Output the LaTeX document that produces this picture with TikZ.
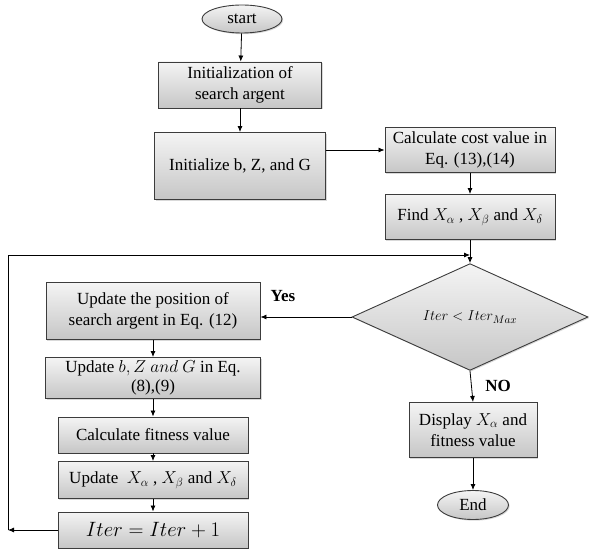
\documentclass[tikz,border=0pt]{standalone}
\usepackage{fontspec}
\setmainfont{Liberation Serif}
\usetikzlibrary{shapes.geometric,arrows.meta,shadows}
\definecolor{boxtop}{HTML}{F4F4F4}
\definecolor{boxbot}{HTML}{C6C6C6}
\definecolor{edge}{HTML}{3C3C3C}
\tikzset{
  box/.style={draw=edge, line width=0.9pt, top color=boxtop, bottom color=boxbot,
    align=center, inner sep=1pt, font=\fontsize{17}{21}\selectfont,
    drop shadow={shadow xshift=1.2pt, shadow yshift=-1.2pt, opacity=0.3}},
  term/.style={box, ellipse},
  cond/.style={box, diamond, inner sep=0pt},
  arr/.style={draw=black, line width=0.8pt, -{Latex[length=6pt,width=5pt]}},
  tag/.style={font=\fontsize{17}{20}\selectfont\bfseries}
}
\begin{document}
\begin{tikzpicture}[x=1pt,y=-1pt]
  \useasboundingbox (0,0) rectangle (589,553);
  % main column
  \node[term, minimum width=80, minimum height=28] (start) at (242,19) {start};
  \node[box, minimum width=163, minimum height=46] (init) at (240,85) {Initialization of\\search argent};
  \node[box, minimum width=171, minimum height=67] (setup) at (240,166) {Initialize b, Z, and G};
  \node[box, minimum width=170, minimum height=45] (cost) at (470,150) {Calculate cost value in\\Eq. (13),(14)};
  \node[box, minimum width=170, minimum height=45] (find) at (470,217) {Find $X_\alpha$ , $X_\beta$ and $X_\delta$};
  \node[cond, minimum width=236, minimum height=93] (check) at (470,317)
    {\fontsize{15.5}{18}\selectfont $Iter < Iter_{Max}$};
  % update loop
  \node[box, minimum width=214, minimum height=57] (update) at (153,311) {Update the position of\\search argent in Eq. (12)};
  \node[box, minimum width=215, minimum height=41] (coef) at (153,378) {Update $b, Z~and~G$ in Eq.\\[-2pt](8),(9)};
  \node[box, minimum width=190, minimum height=36] (fitness) at (153,435) {Calculate fitness value};
  \node[box, minimum width=190, minimum height=37] (best) at (153,480) {Update \ $X_\alpha$ , $X_\beta$ and $X_\delta$};
  \node[box, minimum width=190, minimum height=36] (iter) at (153,530)
    {\fontsize{19.5}{22}\selectfont $Iter = Iter + 1$};
  % exit
  \node[box, minimum width=128, minimum height=55] (show) at (473,430) {Display $X_\alpha$ and\\fitness value};
  \node[term, minimum width=71, minimum height=29] (finish) at (473,505) {End};
  \coordinate (loopout) at (8,530);
  \coordinate (loopin) at (470,255);
  % connectors
  \draw[arr] (start) -- (init);
  \draw[arr] (init) -- (setup);
  \draw[arr] (setup.east |- cost.west) -- (cost.west);
  \draw[arr] (cost) -- (find);
  \draw[arr] (find) -- (check);
  \draw[arr] (check.west) -- (update.east |- check.west);
  \node[tag] at (283,296) {Yes};
  \draw[arr] (update) -- (coef);
  \draw[arr] (coef) -- (fitness);
  \draw[arr] (fitness) -- (best);
  \draw[arr] (best) -- (iter);
  \draw[arr] (iter.west) -- (loopout);
  \draw[arr] (loopout) |- (loopin);
  \draw[arr] (check.south) -- (show.north);
  \node[tag] at (498,386) {NO};
  \draw[arr] (show) -- (finish);
\end{tikzpicture}
\end{document}
